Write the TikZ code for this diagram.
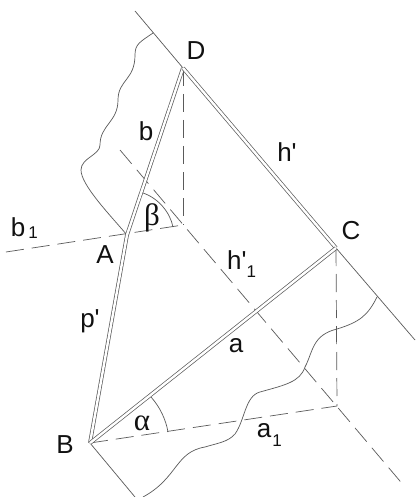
\documentclass[tikz,border=0pt]{standalone}
\usepackage{fontspec}
\newfontfamily\labfont{Liberation Sans}
\newfontfamily\greekfont{Liberation Serif}
\setmainfont{Liberation Sans}
\definecolor{ln}{HTML}{5A5A5A}
\definecolor{tx}{HTML}{111111}
\tikzset{
  thin line/.style={draw=ln,line width=0.7pt},
  dash line/.style={draw=ln,line width=0.7pt,dash pattern=on 18pt off 8pt},
  double line/.style={draw=ln,double=white,double distance=2.4pt,line width=0.7pt,line cap=butt},
  lab/.style={text=tx,font=\labfont\fontsize{26}{26}\selectfont,inner sep=0pt,anchor=center},
  sub/.style={text=tx,font=\labfont\fontsize{17}{17}\selectfont,inner sep=0pt,anchor=center},
  grk/.style={text=tx,font=\greekfont\fontsize{31}{31}\selectfont,inner sep=0pt,anchor=center}
}
\begin{document}
\begin{tikzpicture}[x=1pt,y=-1pt]
\useasboundingbox (0,0) rectangle (415,497);
\fill[white] (0,0) rectangle (415,497);
\coordinate (D) at (183,68);
\coordinate (C) at (336,248);
\coordinate (B) at (90,443);
\coordinate (A) at (127,235);
\coordinate (FD) at (183,225);
\coordinate (FC) at (337,406);
\coordinate (T) at (135,11);
\coordinate (R) at (415,340);
\coordinate (Bb) at (135,497);
\coordinate (L) at (6,252);
\coordinate (H1) at (120,150);
\coordinate (H2) at (405,487);
% solid boundary lines
\draw[thin line] (T) -- (D);
\draw[thin line] (C) -- (R);
\draw[thin line] (B) -- (Bb);
\draw[thin line] (153,33) .. controls (140,42) and (135,44) .. (135,55)
  .. controls (135,80) and (118,80) .. (118,100)
  .. controls (118,122) and (100,125) .. (100,145)
  .. controls (100,155) and (81,158) .. (81,170)
  .. controls (81,185) and (110,215) .. (A);
\draw[thin line] (377,297) .. controls (368,315) and (360,322) .. (337,329)
  .. controls (312,335) and (313,352) .. (305,367)
  .. controls (300,382) and (285,385) .. (260,392)
  .. controls (245,396) and (245,420) .. (235,434)
  .. controls (228,442) and (218,443) .. (205,447)
  .. controls (175,452) and (178,478) .. (143,497);
% dashed construction lines
\draw[dash line] (L) -- (FD);
\draw[dash line] (D) -- (FD);
\draw[dash line] (H1) -- (H2);
\draw[dash line] (B) -- (FC);
\draw[dash line] (C) -- (FC);
% angle arcs
\draw[thin line] (151,397) .. controls (160,407) and (166,420) .. (168,432);
\draw[thin line] (143,193) .. controls (158,198) and (170,212) .. (173,227);
% double lines
\draw[double line] (B) -- (A) -- (D);
\draw[double line] (D) -- (C);
\draw[double line] (C) -- (B);
% labels
\node[lab] (nD) at (196,51) {D};
\node[lab] (nC) at (351,231) {C};
\node[lab] (nB) at (65,445) {B};
\node[lab] (nA) at (105,255) {A};
\node[lab] (nb) at (146,131) {b};
\node[lab] (nbo) at (18,227) {b};
\node[sub] (nbs) at (33,233) {1};
\node[lab] (nh) at (287,152) {h'};
\node[lab,anchor=base west] (nho) at (227,269) {h'\raisebox{-8pt}{\fontsize{17}{17}\selectfont 1}};
\node[lab] (np) at (90,321) {p'};
\node[lab] (na) at (236,346) {a};
\node[lab] (nao) at (264,431) {a};
\node[sub] (nas) at (277,441) {1};
\node[grk] (nal) at (142,423) {α};
\node[grk] (nbe) at (152,218) {β};
\end{tikzpicture}
\end{document}
